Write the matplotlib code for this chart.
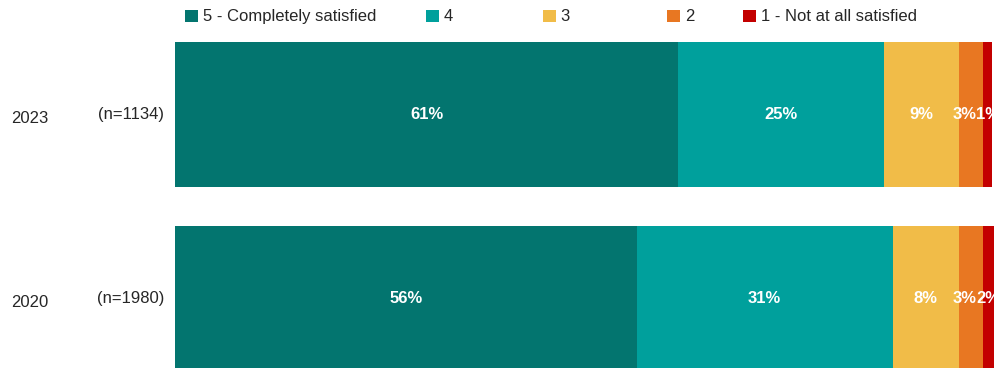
import matplotlib.pyplot as plt
from matplotlib.patches import Rectangle
from matplotlib import transforms

plt.rcParams['font.family'] = ['Liberation Sans', 'DejaVu Sans']

years = ['2023', '2020']
sample_sizes = ['(n=1134)', '(n=1980)']
categories = ['5 - Completely satisfied', '4', '3', '2', '1 - Not at all satisfied']
colors = ['#03756F', '#00A09C', '#F1BC48', '#E87722', '#C30000']

# share of respondents per rating, one list per rating (2023, 2020)
rating_5 = [61, 56]
rating_4 = [25, 31]
rating_3 = [9, 8]
rating_2 = [3, 3]
rating_1 = [1, 2]
series = [rating_5, rating_4, rating_3, rating_2, rating_1]

fig = plt.figure(figsize=(9.94, 3.68), dpi=100)
ax = fig.add_axes([0.176, 0.0, 0.824, 1.0])

ypos = list(range(len(years)))
left = [0, 0]
nser = len(series)
for i, (vals, col) in enumerate(zip(series, colors)):
    bars = ax.barh(ypos, vals, left=left, height=0.788, color=col, edgecolor='none')
    for b, v in zip(bars, vals):
        yc = b.get_y() + b.get_height() / 2
        x0, w = b.get_x(), b.get_width()
        if i == nser - 1:
            # thin last segment: label pushed to start just before it
            xy, off, ha = (x0, yc), (-5, 0), 'left'
        elif i == nser - 2:
            xy, off, ha = (x0 + w, yc), (-5, 0), 'right'
        else:
            xy, off, ha = (x0 + w / 2, yc), (0, 0), 'center'
        ax.annotate(f'{v}%', xy=xy, xytext=off, textcoords='offset points',
                    ha=ha, va='center', color='white', fontsize=12,
                    fontweight='bold')
    left = [l + v for l, v in zip(left, vals)]

ax.set_xlim(0, 99.3)
ax.set_ylim(1.378, -0.622)
ax.axis('off')

# year and sample size labels left of the bars
trans = transforms.blended_transform_factory(fig.transFigure, ax.transData)
for y, yr, n in zip(ypos, years, sample_sizes):
    ax.text(0.011, y + 0.02, yr, transform=trans, ha='left', va='center',
            fontsize=12, color='#262626')
    ax.text(0.165, y, n, transform=trans, ha='right', va='center',
            fontsize=12, color='#262626')

# legend row along the top
legend_x = [0.1861, 0.4286, 0.5463, 0.6710, 0.7475]
for x, lab, col in zip(legend_x, categories, colors):
    fig.patches.append(Rectangle((x, 0.940), 0.0131, 0.0326, transform=fig.transFigure,
                                 facecolor=col, edgecolor='none'))
    fig.text(x + 0.0178, 0.9416, lab, ha='left', va='baseline', fontsize=12,
             color='#262626')

fig.savefig('out.png', dpi=100)
